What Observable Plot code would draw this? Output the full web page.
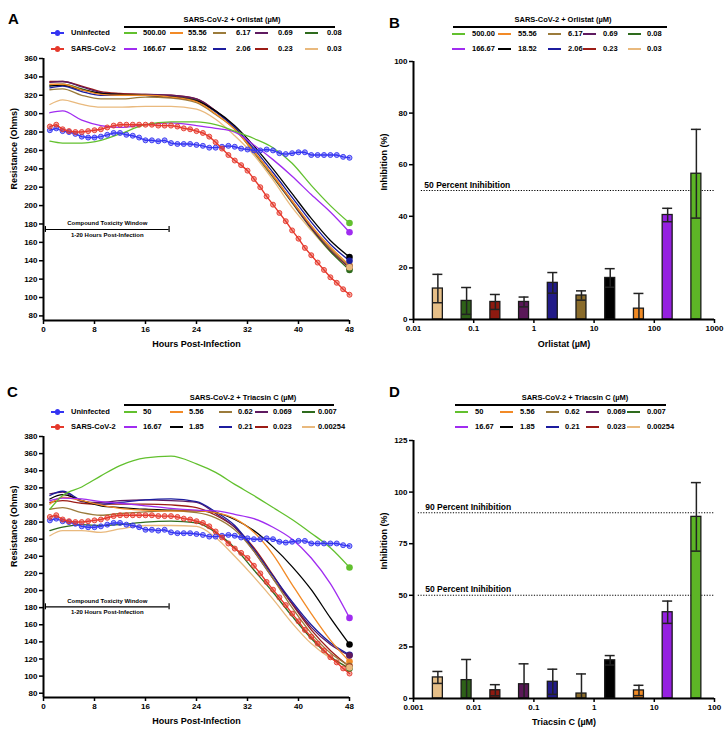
<!DOCTYPE html>
<html><head><meta charset="utf-8">
<script src="https://cdn.jsdelivr.net/npm/d3@7"></script>
<script src="https://cdn.jsdelivr.net/npm/@observablehq/plot@0.6"></script>
<style>
body{margin:0;background:#fff;}
#wrap{position:relative;width:724px;height:729px;font-family:"Liberation Sans",Arial,Helvetica,sans-serif;font-weight:bold;color:#000;overflow:hidden;}
#wrap .abs{position:absolute;white-space:nowrap;line-height:1;}
#wrap svg g[aria-label$="tick"] path{stroke-width:1.5px;}
#wrap svg g.tick line{stroke-width:1.5px;}
</style></head><body><div id="wrap"></div>
<script>
// ---------------- DATA ----------------
const hours = d3.range(1, 49);
const uninfected = [282, 284, 281, 280, 278, 275, 274, 274, 275, 277, 279, 279, 277, 276, 274, 271, 271, 270, 271, 268, 267, 267, 267, 266, 265, 263, 263, 264, 265, 264, 262, 261, 260, 260, 261, 260, 257, 256, 257, 258, 258, 255, 255, 255, 255, 255, 253, 252];
const sarsCov2 = [286, 288, 283, 281, 280, 280, 281, 282, 283, 285, 287, 288, 288, 288, 288, 288, 288, 287, 287, 287, 286, 284, 283, 281, 279, 275, 269, 262, 255, 249, 244, 238, 229, 220, 210, 201, 192, 183, 173, 164, 154, 146, 138, 130, 122, 116, 109, 103];

const lineHours = [1, 3, 6, 9, 12, 16, 20, 24, 27, 30, 33, 36, 39, 42, 45, 48];

const orlistatLabels = ["500.00", "166.67", "55.56", "18.52", "6.17", "2.06", "0.69", "0.23", "0.08", "0.03"];
const orlistatConc = [500, 166.67, 55.56, 18.52, 6.17, 2.06, 0.686, 0.229, 0.0762, 0.0254];
const orlistatCurves = [
  [270, 268, 268, 271, 278, 288, 291, 291, 288, 281, 273, 263, 246, 222, 200, 181],
  [301, 303, 293, 287, 285, 288, 290, 287, 284, 280, 266, 250, 232, 212, 193, 171],
  [332, 332, 326, 321, 320, 320, 318, 313, 300, 283, 259, 233, 205, 178, 155, 135],
  [330, 331, 326, 322, 321, 320, 318, 314, 303, 287, 265, 240, 213, 186, 162, 144],
  [326, 327, 320, 316, 316, 318, 317, 312, 299, 283, 258, 232, 205, 178, 153, 134],
  [328, 330, 324, 320, 320, 320, 318, 314, 302, 285, 262, 236, 209, 182, 158, 140],
  [334, 335, 329, 323, 321, 321, 320, 316, 303, 285, 259, 232, 204, 176, 152, 133],
  [335, 335, 330, 324, 322, 321, 320, 316, 303, 285, 259, 232, 204, 176, 152, 132],
  [331, 332, 327, 322, 321, 320, 319, 315, 302, 284, 258, 231, 203, 175, 150, 130],
  [310, 315, 310, 307, 307, 308, 308, 305, 294, 276, 255, 228, 198, 173, 150, 133]
];
const orlistatInhibMean = [56.5, 40.5, 4.2, 16.1, 9.3, 14.2, 6.8, 6.8, 7.2, 12.0];
const orlistatInhibSD = [17.2, 2.6, 5.9, 3.6, 1.8, 4.0, 1.9, 2.9, 5.2, 5.5];

const triacsinLabels = ["50", "16.67", "5.56", "1.85", "0.62", "0.21", "0.069", "0.023", "0.007", "0.00254"];
const triacsinConc = [50, 16.67, 5.56, 1.85, 0.617, 0.206, 0.0686, 0.0229, 0.00762, 0.00254];
const triacsinCurves = [
  [295, 311, 321, 334, 346, 355, 357, 348, 338, 324, 311, 297, 283, 267, 250, 227],
  [305, 308, 307, 304, 302, 299, 296, 294, 293, 289, 284, 274, 260, 238, 208, 168],
  [301, 309, 305, 300, 296, 294, 293, 293, 291, 284, 268, 242, 207, 173, 142, 117],
  [307, 312, 305, 299, 297, 295, 294, 293, 291, 283, 270, 251, 228, 201, 168, 137],
  [295, 297, 291, 288, 290, 292, 293, 291, 285, 271, 246, 214, 180, 150, 127, 112],
  [311, 316, 305, 301, 303, 306, 307, 304, 292, 276, 248, 217, 187, 160, 139, 125],
  [313, 315, 304, 303, 305, 306, 305, 303, 290, 274, 246, 214, 185, 157, 137, 124],
  [303, 305, 302, 301, 301, 301, 300, 297, 288, 274, 250, 218, 184, 154, 130, 111],
  [270, 274, 277, 276, 277, 280, 281, 279, 268, 250, 224, 198, 170, 144, 123, 109],
  [264, 270, 270, 268, 272, 276, 276, 275, 262, 240, 216, 190, 162, 138, 121, 110]
];
const triacsinInhibMean = [88.0, 41.8, 3.9, 18.5, 2.4, 8.1, 6.9, 4.0, 8.9, 10.2];
const triacsinInhibSD = [16.6, 5.4, 2.5, 2.3, 9.5, 6.1, 9.9, 2.7, 10.0, 2.9];

const hourTicks = [0, 8, 16, 24, 32, 40, 48];
const resistanceTicksA = d3.range(80, 361, 20);
const resistanceTicksC = d3.range(80, 381, 20);
const orlistatTicks = [0.01, 0.1, 1, 10, 100, 1000];
const triacsinTicks = [0.001, 0.01, 0.1, 1, 10, 100];
const inhibTicksB = [0, 20, 40, 60, 80, 100];
const inhibTicksD = [0, 25, 50, 75, 100, 125];
const refLevelsB = [50];
const refLevelsD = [90, 50];
const toxWindow = [0.3, 19.7];

const treatColors = ["#62c02e", "#a02cf0", "#f28a26", "#000000", "#9b7b3b", "#1c1c9e", "#5e1a60", "#9c1c16", "#2e6b1d", "#e9b97d"];
const barColors = ["#5db526", "#9520e0", "#f08a24", "#000000", "#8a6c2b", "#221b88", "#5a1858", "#8e1a10", "#2e6118", "#e6bf88"];
const ctrlBlue = "#3535f2";
const ctrlRed = "#e5392c";

// ---------------- HELPERS ----------------
const wrap = document.getElementById("wrap");
const FONT = "Liberation Sans, Arial, Helvetica, sans-serif";
function place(node, left, top) {
  const d = document.createElement("div");
  d.style.position = "absolute"; d.style.left = left + "px"; d.style.top = top + "px";
  d.appendChild(node); wrap.appendChild(d);
}
function addText(txt, x, y, size, anchor) {
  const d = document.createElement("div");
  d.className = "abs"; d.textContent = txt;
  d.style.left = x + "px"; d.style.top = y + "px"; d.style.fontSize = size + "px";
  d.style.transform = `translate(${anchor === "middle" ? "-50%" : "0"}, -50%)`;
  wrap.appendChild(d);
}
function addLine(x, y, w, color, t) {
  const d = document.createElement("div");
  d.className = "abs";
  Object.assign(d.style, {left: x + "px", top: (y - t / 2) + "px", width: w + "px", height: t + "px", background: color});
  wrap.appendChild(d);
}
function addDot(x, y, r, color) {
  const d = document.createElement("div");
  d.className = "abs";
  Object.assign(d.style, {left: (x - r) + "px", top: (y - r) + "px", width: 2 * r + "px", height: 2 * r + "px", background: color, borderRadius: "50%"});
  wrap.appendChild(d);
}
const baseStyle = {fontFamily: FONT, fontSize: "8px", fontWeight: "bold", background: "transparent", overflow: "visible", color: "#000"};

function resistancePanel(o) {
  const last = lineHours.length - 1;
  const lineMarks = [];
  for (let i = o.curves.length - 1; i >= 0; i--) {
    const pts = o.curves[i].map((v, j) => ({h: lineHours[j], v}));
    lineMarks.push(Plot.line(pts, {x: "h", y: "v", stroke: treatColors[i], strokeWidth: 1.3, curve: "monotone-x"}));
  }
  const endDots = o.curves.map((vals, i) => Plot.dot([{h: lineHours[last], v: vals[last]}], {x: "h", y: "v", r: 3.3, fill: treatColors[i]}));
  const ctrlMarks = [[uninfected, ctrlBlue], [sarsCov2, ctrlRed]].flatMap(([vals, col]) => {
    const pts = vals.map((v, i) => ({h: hours[i], v}));
    return [
      Plot.line(pts, {x: "h", y: "v", stroke: col, strokeWidth: 1.4}),
      Plot.dot(pts, {x: "h", y: "v", r: 2.5, fill: col, fillOpacity: 0.45, stroke: col, strokeWidth: 0.9})
    ];
  });
  const mid = (toxWindow[0] + toxWindow[1]) / 2;
  return Plot.plot({
    width: 362, height: o.height,
    marginLeft: 43, marginRight: 13, marginTop: o.mt, marginBottom: o.mb,
    style: baseStyle,
    x: {domain: [0, 48], ticks: hourTicks, tickSize: 4, tickPadding: 2, label: null},
    y: {domain: o.yDomain, ticks: o.yTicks, tickSize: 4, tickPadding: 2, label: null},
    marks: [
      ...lineMarks,
      ...ctrlMarks,
      ...endDots,
      Plot.ruleY([o.windowY], {x1: toxWindow[0], x2: toxWindow[1], strokeWidth: 1.2}),
      Plot.ruleX(toxWindow, {y1: o.windowY - o.cap, y2: o.windowY + o.cap, strokeWidth: 1.2}),
      Plot.text(["Compound Toxicity Window"], {x: mid, y: o.windowY, dy: -6, text: d => d, fontSize: 6, fontWeight: "bold"}),
      Plot.text(["1-20 Hours Post-Infection"], {x: mid, y: o.windowY, dy: 5.5, text: d => d, fontSize: 6, fontWeight: "bold"}),
      Plot.ruleX([0], {strokeWidth: 2}),
      Plot.ruleY([o.yDomain[0]], {strokeWidth: 2}),
      Plot.text(["Hours Post-Infection"], {frameAnchor: "bottom", dy: 26, text: d => d, fontSize: 9, fontWeight: "bold"}),
      Plot.text(["Resistance (Ohms)"], {frameAnchor: "left", dx: -29, rotate: -90, text: d => d, fontSize: 9, fontWeight: "bold"})
    ]
  });
}

function inhibitionPanel(o) {
  const f = 1.21;
  const bars = o.conc.map((c, i) => ({c, m: o.mean[i], s: o.sd[i], k: i}));
  return Plot.plot({
    width: 362, height: o.height,
    marginLeft: 51, marginRight: 10, marginTop: o.mt, marginBottom: o.mb,
    style: baseStyle,
    x: {type: "log", domain: o.xDomain, ticks: o.xTicks, tickFormat: d => String(d), tickSize: 4, tickPadding: 2, label: null},
    y: {domain: o.yDomain, ticks: o.yTicks, tickSize: 4, tickPadding: 2, label: null},
    color: {type: "identity"},
    marks: [
      Plot.ruleY(o.refLevels, {x1: o.refStart, x2: o.xDomain[1], stroke: "#000", strokeWidth: 1.1, strokeDasharray: "1.2,1.5"}),
      Plot.text(o.refLevels, {x: o.refStart, y: d => d, text: d => `${d} Percent Inihibition`, textAnchor: "start", lineAnchor: "bottom", dx: o.refDx, dy: -3, fontSize: 8.5, fontWeight: "bold"}),
      Plot.rect(bars, {x1: d => d.c / f, x2: d => d.c * f, y1: 0, y2: "m", fill: d => o.colors[d.k], stroke: "#1a1a1a", strokeWidth: 1.3}),
      Plot.ruleX(bars, {x: "c", y1: d => Math.max(0, d.m - d.s), y2: d => d.m + d.s, stroke: "#222", strokeWidth: 1.5}),
      Plot.ruleY(bars, {y: d => d.m + d.s, x1: d => d.c / f, x2: d => d.c * f, stroke: "#222", strokeWidth: 1.5}),
      Plot.ruleY(bars.filter(d => d.m - d.s > 0), {y: d => d.m - d.s, x1: d => d.c / f, x2: d => d.c * f, stroke: "#222", strokeWidth: 1.5}),
      Plot.ruleX([o.xDomain[0]], {strokeWidth: 2}),
      Plot.ruleY([0], {strokeWidth: 2}),
      Plot.text([o.xLabel], {frameAnchor: "bottom", dy: o.xLabelDy, text: d => d, fontSize: 9, fontWeight: "bold"}),
      Plot.text(["Inhibition (%)"], {frameAnchor: "left", dx: -29, rotate: -90, text: d => d, fontSize: 9, fontWeight: "bold"})
    ]
  });
}

function treatLegend(labels, colors, L) {
  addText(L.header, L.hx, L.hy, 7.5, "middle");
  addLine(L.ux1, L.uy, L.ux2 - L.ux1, "#000", 1.4);
  labels.forEach((lab, i) => {
    const row = i % 2, col = Math.floor(i / 2);
    addLine(L.lineX[col], L.rows[row], 13, colors[i], 2);
    addText(lab, L.textX[col], L.rows[row], 7.5, "start");
  });
}
function ctrlLegend(rows) {
  [["Uninfected", ctrlBlue], ["SARS-CoV-2", ctrlRed]].forEach(([lab, col], r) => {
    addLine(51, rows[r], 13, col, 2);
    addDot(57.5, rows[r], 2.6, col);
    addText(lab, 71, rows[r], 7.5, "start");
  });
}

// ---------------- PANELS ----------------
place(resistancePanel({curves: orlistatCurves, height: 300, mt: 8, mb: 30, yDomain: [75, 360], yTicks: resistanceTicksA, windowY: 174, cap: 3.2}), 0, 50);
place(inhibitionPanel({conc: orlistatConc, mean: orlistatInhibMean, sd: orlistatInhibSD, colors: barColors, height: 300, mt: 11, mb: 31,
  xDomain: [0.01, 1000], xTicks: orlistatTicks, yDomain: [0, 100], yTicks: inhibTicksB, refLevels: refLevelsB, refStart: 0.0135, refDx: 3,
  xLabel: "Orlistat (µM)", xLabelDy: 27}), 362, 50);
place(resistancePanel({curves: triacsinCurves, height: 309, mt: 16, mb: 32, yDomain: [75, 380], yTicks: resistanceTicksC, windowY: 181, cap: 3.5}), 0, 420);
place(inhibitionPanel({conc: triacsinConc, mean: triacsinInhibMean, sd: triacsinInhibSD, colors: barColors, height: 309, mt: 20, mb: 31,
  xDomain: [0.001, 100], xTicks: triacsinTicks, yDomain: [0, 125], yTicks: inhibTicksD, refLevels: refLevelsD, refStart: 0.0012, refDx: 7,
  xLabel: "Triacsin C (µM)", xLabelDy: 26}), 362, 420);

// ---------------- LEGENDS & LETTERS ----------------
treatLegend(orlistatLabels, treatColors, {header: "SARS-CoV-2 + Orlistat (µM)", hx: 232, hy: 20, ux1: 124, ux2: 335, uy: 27, rows: [33, 49],
  lineX: [124, 170, 213, 255, 305], textX: [143, 188, 236, 278, 327]});
ctrlLegend([33, 49]);
treatLegend(orlistatLabels, treatColors, {header: "SARS-CoV-2 + Orlistat (µM)", hx: 563, hy: 20, ux1: 453, ux2: 667, uy: 27, rows: [34, 49],
  lineX: [452, 498, 548, 583, 628], textX: [472, 518, 568, 603, 647]});
treatLegend(triacsinLabels, treatColors, {header: "SARS-CoV-2 + Triacsin C (µM)", hx: 243, hy: 398, ux1: 124, ux2: 334, uy: 405, rows: [412, 427],
  lineX: [124, 170, 219, 255, 302], textX: [143, 189, 238, 273, 318]});
ctrlLegend([412, 427]);
treatLegend(triacsinLabels, treatColors, {header: "SARS-CoV-2 + Triacsin C (µM)", hx: 575, hy: 398, ux1: 455, ux2: 666, uy: 405, rows: [412, 427],
  lineX: [455, 500, 546, 586, 627], textX: [475, 520, 565, 607, 647]});

[["A", 8, 18], ["B", 389, 22], ["C", 7, 391], ["D", 389, 391]].forEach(([t, x, y]) => addText(t, x, y, 15, "start"));
</script></body></html>
